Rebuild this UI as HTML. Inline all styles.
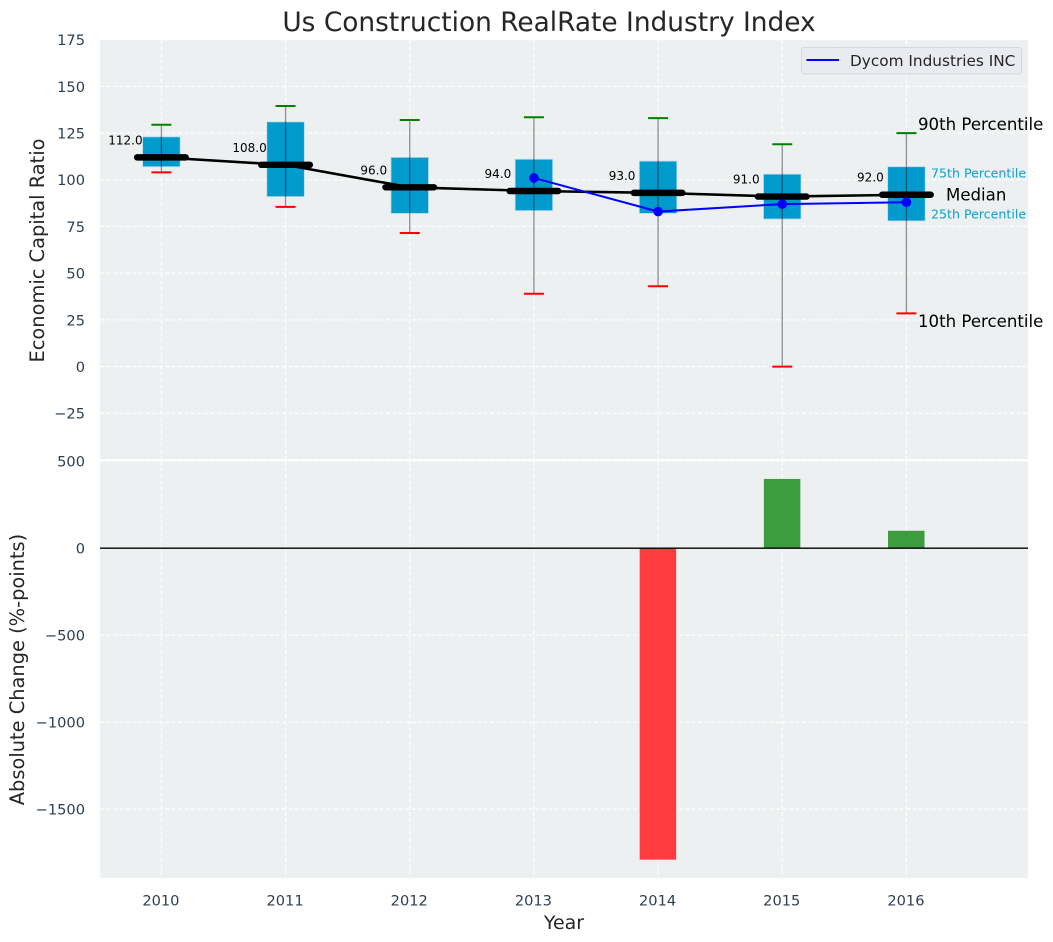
<!DOCTYPE html>
<html lang="en">
<head>
<meta charset="utf-8">
<title>Us Construction RealRate Industry Index</title>
<style>
html,body{margin:0;padding:0;background:#fff}
svg{display:block;font-family:"DejaVu Sans","Liberation Sans",sans-serif}
</style>
</head>
<body>
<svg id="chart" xmlns="http://www.w3.org/2000/svg" width="1053" height="942" viewBox="0 0 1053 942"></svg>
<script>
const years = [2010, 2011, 2012, 2013, 2014, 2015, 2016];
const p10 = [104, 85.5, 71.5, 39, 43, 0, 28.5];
const p25 = [107, 91, 82, 83.5, 82, 79, 78];
const medians = [112, 108, 96, 94, 93, 91, 92];
const p75 = [123, 131, 112, 111, 110, 103, 107];
const p90 = [129.5, 139.5, 132, 133.5, 133, 119, 125];
const companyYears = [2013, 2014, 2015, 2016];
const companyValues = [101, 83, 87, 88];
const changeYears = [2014, 2015, 2016];
const changeValues = [-1790, 398, 100];
const topTicks = [175, 150, 125, 100, 75, 50, 25, 0, -25];
const bottomTicks = [500, 0, -500, -1000, -1500];

const svg = document.getElementById('chart');
const NS = 'http://www.w3.org/2000/svg';
const L = 100, R = 1028;
const T1 = 40, B1 = 459, T2 = 461, B2 = 878;

function xScale(v) { return 161.4 + (v - 2010) * 124.17; }
function yTop(v) { return 366.6 - v * 1.868; }
function yBottom(v) { return 548.2 - v * 0.174; }

function make(tag, attrs, text) {
  const el = document.createElementNS(NS, tag);
  for (const k in attrs) el.setAttribute(k, attrs[k]);
  if (text !== undefined) el.textContent = text;
  svg.appendChild(el);
  return el;
}
function fmt(v) { return String(v).replace('-', '\u2212'); }

/* panels */
const panelTop = make('rect', { x: L, y: T1, width: R - L, height: B1 - T1, fill: '#ecf0f1' });


const panelBottom = make('rect', { x: L, y: T2, width: R - L, height: B2 - T2, fill: '#ecf0f1' });



/* grid + ticks */
const gridStyle = { stroke: '#ffffff', 'stroke-width': 1.1, 'stroke-dasharray': '4 2.5' };
years.forEach(function (yr) {
  const x = xScale(yr);
  const g1 = make('line', Object.assign({ x1: x, x2: x, y1: T1, y2: B1 }, gridStyle));
  
  
  const g2 = make('line', Object.assign({ x1: x, x2: x, y1: T2, y2: B2 }, gridStyle));
  
  
  const lab = make('text', { x: x - 0.5, y: 905.5, 'text-anchor': 'middle', 'font-size': 14.6, fill: '#2c3e50' }, String(yr));
  
  
});
topTicks.forEach(function (v) {
  const y = yTop(v);
  const g = make('line', Object.assign({ x1: L, x2: R, y1: y, y2: y }, gridStyle));
  
  
  const lab = make('text', { x: 85, y: y + 5.4, 'text-anchor': 'end', 'font-size': 14.6, fill: '#2c3e50' }, fmt(v));
  
  
});
bottomTicks.forEach(function (v) {
  const y = yBottom(v);
  const g = make('line', Object.assign({ x1: L, x2: R, y1: y, y2: y }, gridStyle));
  
  
  const lab = make('text', { x: 85, y: y + 5.4, 'text-anchor': 'end', 'font-size': 14.6, fill: '#2c3e50' }, fmt(v));
  
  
});

/* boxes */
const boxW = 37.5;
years.forEach(function (yr, i) {
  const x = xScale(yr);
  const box = make('rect', {
    x: x - boxW / 2, y: yTop(p75[i]), width: boxW, height: yTop(p25[i]) - yTop(p75[i]),
    fill: '#009acd', stroke: '#b5dcea', 'stroke-width': 0.8
  });
  
  
  const whisker = make('line', {
    x1: x, x2: x, y1: yTop(p90[i]), y2: yTop(p10[i]),
    stroke: '#000000', 'stroke-opacity': 0.42, 'stroke-width': 1.3
  });
  
  
  const capHi = make('line', { x1: x - 10, x2: x + 10, y1: yTop(p90[i]), y2: yTop(p90[i]), stroke: '#008000', 'stroke-width': 2 });
  
  
  const capLo = make('line', { x1: x - 10, x2: x + 10, y1: yTop(p10[i]), y2: yTop(p10[i]), stroke: '#ff0000', 'stroke-width': 2 });
  
  
});

/* median trend line */
const medianLine = make('polyline', {
  points: years.map(function (yr, i) { return xScale(yr) + ',' + yTop(medians[i]); }).join(' '),
  fill: 'none', stroke: '#000000', 'stroke-width': 2.6
});



years.forEach(function (yr, i) {
  const x = xScale(yr), y = yTop(medians[i]);
  const bar = make('line', { x1: x - 24.3, x2: x + 24.3, y1: y, y2: y, stroke: '#000000', 'stroke-width': 6.4, 'stroke-linecap': 'round' });
  
  
  const lab = make('text', { x: x - 36, y: y - 13, 'text-anchor': 'middle', 'font-size': 12, fill: '#000000' }, medians[i].toFixed(1));
  
  
});

/* company series */
const companyLine = make('polyline', {
  points: companyYears.map(function (yr, i) { return xScale(yr) + ',' + yTop(companyValues[i]); }).join(' '),
  fill: 'none', stroke: '#0000ff', 'stroke-width': 2
});


companyYears.forEach(function (yr, i) {
  const dot = make('circle', { cx: xScale(yr), cy: yTop(companyValues[i]), r: 4.8, fill: '#0000ff' });
  
  
});

/* change bars */
changeYears.forEach(function (yr, i) {
  const v = changeValues[i];
  const y0 = yBottom(0), y1 = yBottom(v);
  const bar = make('rect', {
    x: xScale(yr) - 18.4, y: Math.min(y0, y1), width: 36.5, height: Math.abs(y1 - y0),
    fill: v < 0 ? '#ff3c3f' : '#3c9c3e'
  });
  
  
});
const zero = make('line', { x1: L, x2: R, y1: yBottom(0), y2: yBottom(0), stroke: '#000000', 'stroke-width': 1.3 });



/* percentile annotations */
const notes = [
  ['annotation-90th-percentile', '90th Percentile', 918, 130, 16.6, '#000000'],
  ['annotation-10th-percentile', '10th Percentile', 918, 327, 16.6, '#000000'],
  ['annotation-median', 'Median', 946, 200.5, 16.6, '#000000'],
  ['annotation-75th-percentile', '75th Percentile', 931, 177.5, 12.6, '#0ba0cf'],
  ['annotation-25th-percentile', '25th Percentile', 931, 218.5, 12.6, '#0ba0cf']
];
notes.forEach(function (n) {
  const t = make('text', { x: n[2], y: n[3], 'font-size': n[4], fill: n[5] }, n[1]);
  
  
});

/* legend */
const legendBox = make('rect', { x: 801.5, y: 47.5, width: 220, height: 26.5, rx: 2.5, fill: '#e9ebf1', stroke: '#d6d8dc', 'stroke-width': 1 });


const legendLine = make('line', { x1: 806.5, x2: 839, y1: 60, y2: 60, stroke: '#0000ff', 'stroke-width': 2 });


const legendText = make('text', { x: 850, y: 65.8, 'font-size': 15.3, fill: '#262626' }, 'Dycom Industries INC');



/* titles */
const title = make('text', { x: 549, y: 31, 'text-anchor': 'middle', 'font-size': 26.4, fill: '#262626' }, 'Us Construction RealRate Industry Index');


const xTitle = make('text', { x: 564, y: 929, 'text-anchor': 'middle', 'font-size': 19, fill: '#262626' }, 'Year');


const yTitle1 = make('text', { x: 0, y: 0, 'text-anchor': 'middle', 'font-size': 19.4, fill: '#262626', transform: 'translate(44 250.5) rotate(-90)' }, 'Economic Capital Ratio');


const yTitle2 = make('text', { x: 0, y: 0, 'text-anchor': 'middle', 'font-size': 19.4, fill: '#262626', transform: 'translate(24 669.5) rotate(-90)' }, 'Absolute Change (%-points)');


</script>
</body>
</html>
